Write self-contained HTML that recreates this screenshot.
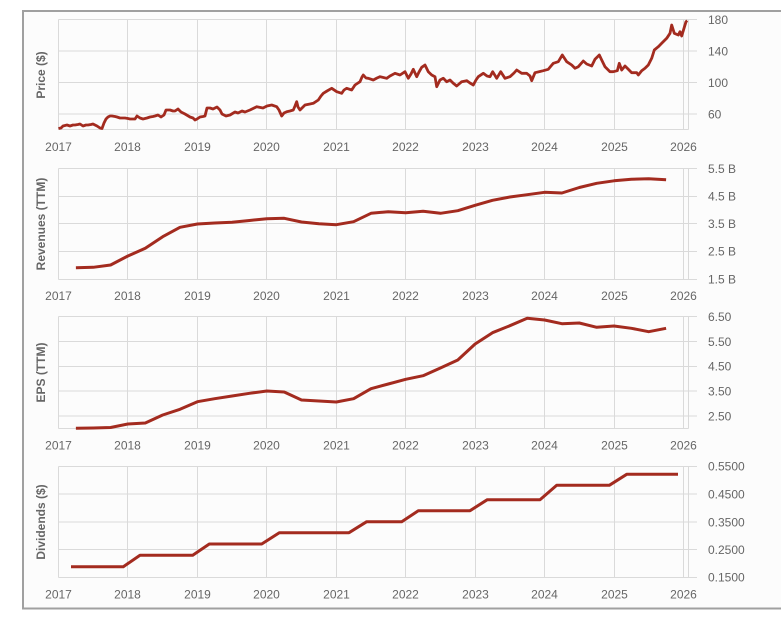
<!DOCTYPE html>
<html>
<head>
<meta charset="utf-8">
<style>
  html, body { margin:0; padding:0; background:#ffffff; }
  body { width:781px; height:617px; overflow:hidden; }
  svg { display:block; }
  text { font-family: "Liberation Sans", Arial, sans-serif; }
</style>
</head>
<body>
<svg width="781" height="617" viewBox="0 0 781 617" xmlns="http://www.w3.org/2000/svg">
  <!-- outer box -->
  <rect x="23" y="11" width="800" height="597.5" fill="#fcfcfc" stroke="#a0a0a0" stroke-width="2"/>

  <g stroke="#dadada" stroke-width="1" fill="none">
    <!-- Panel 1 -->
    <line x1="58.5" y1="19.5" x2="697" y2="19.5"/>
    <line x1="58.5" y1="51" x2="697" y2="51"/>
    <line x1="58.5" y1="82.5" x2="697" y2="82.5"/>
    <line x1="58.5" y1="114" x2="697" y2="114"/>
    <line x1="58.5" y1="129.5" x2="688.5" y2="129.5"/>
    <!-- Panel 2 -->
    <line x1="58.5" y1="168.5" x2="697" y2="168.5"/>
    <line x1="58.5" y1="196.5" x2="697" y2="196.5"/>
    <line x1="58.5" y1="223.5" x2="697" y2="223.5"/>
    <line x1="58.5" y1="251.5" x2="697" y2="251.5"/>
    <line x1="58.5" y1="279.5" x2="697" y2="279.5"/>
    <!-- Panel 3 -->
    <line x1="58.5" y1="316.5" x2="697" y2="316.5"/>
    <line x1="58.5" y1="341.5" x2="697" y2="341.5"/>
    <line x1="58.5" y1="366.5" x2="697" y2="366.5"/>
    <line x1="58.5" y1="391" x2="697" y2="391"/>
    <line x1="58.5" y1="416" x2="697" y2="416"/>
    <line x1="58.5" y1="428.5" x2="688.5" y2="428.5"/>
    <!-- Panel 4 -->
    <line x1="58.5" y1="466.5" x2="697" y2="466.5"/>
    <line x1="58.5" y1="494" x2="697" y2="494"/>
    <line x1="58.5" y1="522" x2="697" y2="522"/>
    <line x1="58.5" y1="549.5" x2="697" y2="549.5"/>
    <line x1="58.5" y1="577.5" x2="697" y2="577.5"/>
  </g>

  <!-- vertical gridlines per panel -->
  <g stroke="#dadada" stroke-width="1">
    <g id="v1">
      <line x1="58.5" y1="19.5" x2="58.5" y2="129.5"/>
      <line x1="127.5" y1="19.5" x2="127.5" y2="129.5"/>
      <line x1="197.5" y1="19.5" x2="197.5" y2="129.5"/>
      <line x1="266.5" y1="19.5" x2="266.5" y2="129.5"/>
      <line x1="336.5" y1="19.5" x2="336.5" y2="129.5"/>
      <line x1="405.5" y1="19.5" x2="405.5" y2="129.5"/>
      <line x1="475.5" y1="19.5" x2="475.5" y2="129.5"/>
      <line x1="544.5" y1="19.5" x2="544.5" y2="129.5"/>
      <line x1="614.5" y1="19.5" x2="614.5" y2="129.5"/>
      <line x1="683.5" y1="19.5" x2="683.5" y2="129.5"/>
      <line x1="688.5" y1="19.5" x2="688.5" y2="129.5"/>
    </g>
    <g>
      <line x1="58.5" y1="168.5" x2="58.5" y2="279.5"/>
      <line x1="127.5" y1="168.5" x2="127.5" y2="279.5"/>
      <line x1="197.5" y1="168.5" x2="197.5" y2="279.5"/>
      <line x1="266.5" y1="168.5" x2="266.5" y2="279.5"/>
      <line x1="336.5" y1="168.5" x2="336.5" y2="279.5"/>
      <line x1="405.5" y1="168.5" x2="405.5" y2="279.5"/>
      <line x1="475.5" y1="168.5" x2="475.5" y2="279.5"/>
      <line x1="544.5" y1="168.5" x2="544.5" y2="279.5"/>
      <line x1="614.5" y1="168.5" x2="614.5" y2="279.5"/>
      <line x1="683.5" y1="168.5" x2="683.5" y2="279.5"/>
      <line x1="688.5" y1="168.5" x2="688.5" y2="279.5"/>
    </g>
    <g>
      <line x1="58.5" y1="316.5" x2="58.5" y2="428.5"/>
      <line x1="127.5" y1="316.5" x2="127.5" y2="428.5"/>
      <line x1="197.5" y1="316.5" x2="197.5" y2="428.5"/>
      <line x1="266.5" y1="316.5" x2="266.5" y2="428.5"/>
      <line x1="336.5" y1="316.5" x2="336.5" y2="428.5"/>
      <line x1="405.5" y1="316.5" x2="405.5" y2="428.5"/>
      <line x1="475.5" y1="316.5" x2="475.5" y2="428.5"/>
      <line x1="544.5" y1="316.5" x2="544.5" y2="428.5"/>
      <line x1="614.5" y1="316.5" x2="614.5" y2="428.5"/>
      <line x1="683.5" y1="316.5" x2="683.5" y2="428.5"/>
      <line x1="688.5" y1="316.5" x2="688.5" y2="428.5"/>
    </g>
    <g>
      <line x1="58.5" y1="466.5" x2="58.5" y2="577.5"/>
      <line x1="127.5" y1="466.5" x2="127.5" y2="577.5"/>
      <line x1="197.5" y1="466.5" x2="197.5" y2="577.5"/>
      <line x1="266.5" y1="466.5" x2="266.5" y2="577.5"/>
      <line x1="336.5" y1="466.5" x2="336.5" y2="577.5"/>
      <line x1="405.5" y1="466.5" x2="405.5" y2="577.5"/>
      <line x1="475.5" y1="466.5" x2="475.5" y2="577.5"/>
      <line x1="544.5" y1="466.5" x2="544.5" y2="577.5"/>
      <line x1="614.5" y1="466.5" x2="614.5" y2="577.5"/>
      <line x1="683.5" y1="466.5" x2="683.5" y2="577.5"/>
      <line x1="688.5" y1="466.5" x2="688.5" y2="577.5"/>
    </g>
  </g>

  <!-- Series -->
  <g fill="none" stroke="#a32b1f" stroke-width="3" stroke-linejoin="round" stroke-linecap="butt">
    <polyline stroke-width="2.8" points="58.5,128.5 61,128 63,126 65,125.5 67,125 70,126 73,125 75,125 78,124.5 80,124 83,126 86,125 88,125 91,124.5 93,124 97,126 100,128 102,128.5 104,123 106,119 108,117 110,116 112,116 115,116.5 117,117 120,118 125,118 128,118.5 130,119 133,119 135,119 137,116 140,118 143,119 147,118 150,117 153,116.5 155,116 158,115 161,117 164,115 166,110 170,110 173,111 175,111 178,109 181,112 185,114 190,117 193,118 195,120 197,119 200,117 203,116.5 205,116 207,108 210,108 213,109 215,108 217,107 220,110 222,114 226,116 230,115 235,112 238,113 242,111 245,112 250,110 256.7,106.7 263,108 267,106 271.7,105 276.7,106.7 279,110 281.7,116 284,113 286.7,111.7 290,111 293.3,110 295,106 296.7,101.7 298,107 300,110 303,107 305,105 310,104 313.3,103.3 318.3,100 321,96 323.3,93.3 327,91 331.7,88.3 336.7,91.7 341.7,93.3 344,90 346.7,88.3 351.7,90 355,85 358,83 360,81.7 362,77 363.3,75 366,78 368.3,78.3 373.3,80 377,78 380,76.7 386.7,78.3 390,76 395,73.3 400,75 405,71.7 408.3,78.3 411,74 413.3,69.3 416.7,76.7 419,72 421.7,67.3 425,65 428.3,71.7 431.7,75 435,76.7 436.7,86.7 440,80 443.3,78.3 446.7,81.7 450,80 453,83 456.7,86 461.7,81.7 466.7,80.7 470,83 473.3,85 476,80 478.3,76.7 483.3,73.3 487,76 490,76.7 492.7,71.7 496.7,78.3 500.7,71.7 505,78.3 510,76.7 514,73 516.7,70 521.7,73.3 526.7,73.3 530,76 531.7,80.7 535,72.7 540,71.5 543.3,70.7 548.3,69.3 551,66 553.3,63.3 558.3,61.7 562.3,55 566.7,61.7 571.7,65 575,68.3 578.3,66.7 583.3,61 586.7,64 591.7,66 595,59.3 599.3,55 601.7,60 605,66.7 610,71.7 613.3,71.7 617.3,70.7 619.3,63.3 621.7,70 625,66 628.3,69.3 631.7,72.7 636.7,72.7 638.3,75 641.7,70.7 645,68.3 648.3,65 651.7,58.3 654.3,50 658.3,46.7 661.7,43.3 666.7,38.3 670,33.3 671.7,25 674.3,33.3 678.3,35 680,31.7 681.7,36 684,28.3 686,21.7 687.3,20.7"/>

    <polyline points="75.9,267.7 93.2,267.3 110.6,265 127.9,256 145.3,248.3 162.7,236.7 180,227.3 197.4,224 214.7,223 232.1,222.3 249.5,220.5 266.8,218.7 284.2,218.3 301.5,222 318.9,223.7 336.3,224.7 353.6,221.7 371,213.3 388.3,211.7 405.7,212.7 423.1,211.3 440.4,213.3 457.8,210.7 475.1,205.3 492.5,200.3 509.9,197 527.2,194.7 544.6,192.3 561.9,193 579.3,187.5 596.7,183.3 614,180.8 631.4,179.2 648.7,178.7 666.1,179.7"/>

    <polyline points="75.9,428.3 93.2,428 110.6,427.5 127.9,424 145.3,423 162.7,415 180,409.3 197.4,401.7 214.7,398.7 232.1,396 249.5,393.3 266.8,391 284.2,392 301.5,400 318.9,401 336.3,402 353.6,398.7 371,388.7 388.3,384 405.7,379.3 423.1,375.7 440.4,368 457.8,360 475.1,344 492.5,332.7 509.9,325.7 527.2,318.3 544.6,320 561.9,323.7 579.3,323 596.7,327.3 614,326 631.4,328.3 648.7,331.7 666.1,328.3"/>

    <polyline points="71,566.7 123.3,566.7 140,555.3 192.7,555.3 209.3,544 261.7,544 279.3,532.7 349,532.7 366.7,521.7 401.7,521.7 418.3,510.7 470,510.7 487.3,499.7 540,499.7 556.7,485.3 609.3,485.3 626.7,474.3 678,474.3"/>
  </g>

  <!-- Right axis labels -->
  <g fill="#666" font-size="12">
    <text x="708" y="23.8">180</text>
    <text x="708" y="55.3">140</text>
    <text x="708" y="86.8">100</text>
    <text x="708" y="118.3">60</text>

    <text x="708" y="172.8">5.5 B</text>
    <text x="708" y="200.5">4.5 B</text>
    <text x="708" y="228">3.5 B</text>
    <text x="708" y="255.5">2.5 B</text>
    <text x="708" y="283.5">1.5 B</text>

    <text x="708" y="320.8">6.50</text>
    <text x="708" y="345.8">5.50</text>
    <text x="708" y="370.6">4.50</text>
    <text x="708" y="395.3">3.50</text>
    <text x="708" y="420.3">2.50</text>

    <text x="708" y="470.6">0.5500</text>
    <text x="708" y="498.3">0.4500</text>
    <text x="708" y="526.3">0.3500</text>
    <text x="708" y="553.8">0.2500</text>
    <text x="708" y="581.6">0.1500</text>
  </g>

  <!-- X axis labels -->
  <g fill="#666" font-size="12" text-anchor="middle">
    <g transform="translate(0,151)">
      <text x="58.5">2017</text><text x="127.5">2018</text><text x="197.5">2019</text><text x="266.5">2020</text><text x="336.5">2021</text><text x="405.5">2022</text><text x="475.5">2023</text><text x="544.5">2024</text><text x="614.5">2025</text><text x="683.5">2026</text>
    </g>
    <g transform="translate(0,300.2)">
      <text x="58.5">2017</text><text x="127.5">2018</text><text x="197.5">2019</text><text x="266.5">2020</text><text x="336.5">2021</text><text x="405.5">2022</text><text x="475.5">2023</text><text x="544.5">2024</text><text x="614.5">2025</text><text x="683.5">2026</text>
    </g>
    <g transform="translate(0,449.3)">
      <text x="58.5">2017</text><text x="127.5">2018</text><text x="197.5">2019</text><text x="266.5">2020</text><text x="336.5">2021</text><text x="405.5">2022</text><text x="475.5">2023</text><text x="544.5">2024</text><text x="614.5">2025</text><text x="683.5">2026</text>
    </g>
    <g transform="translate(0,598.3)">
      <text x="58.5">2017</text><text x="127.5">2018</text><text x="197.5">2019</text><text x="266.5">2020</text><text x="336.5">2021</text><text x="405.5">2022</text><text x="475.5">2023</text><text x="544.5">2024</text><text x="614.5">2025</text><text x="683.5">2026</text>
    </g>
  </g>

  <!-- Y axis titles -->
  <g fill="#666" font-size="12" font-weight="bold" text-anchor="middle">
    <text transform="translate(45,75) rotate(-90)">Price ($)</text>
    <text transform="translate(45,224) rotate(-90)">Revenues (TTM)</text>
    <text transform="translate(45,372.5) rotate(-90)">EPS (TTM)</text>
    <text transform="translate(45,522) rotate(-90)">Dividends ($)</text>
  </g>
</svg>
</body>
</html>
